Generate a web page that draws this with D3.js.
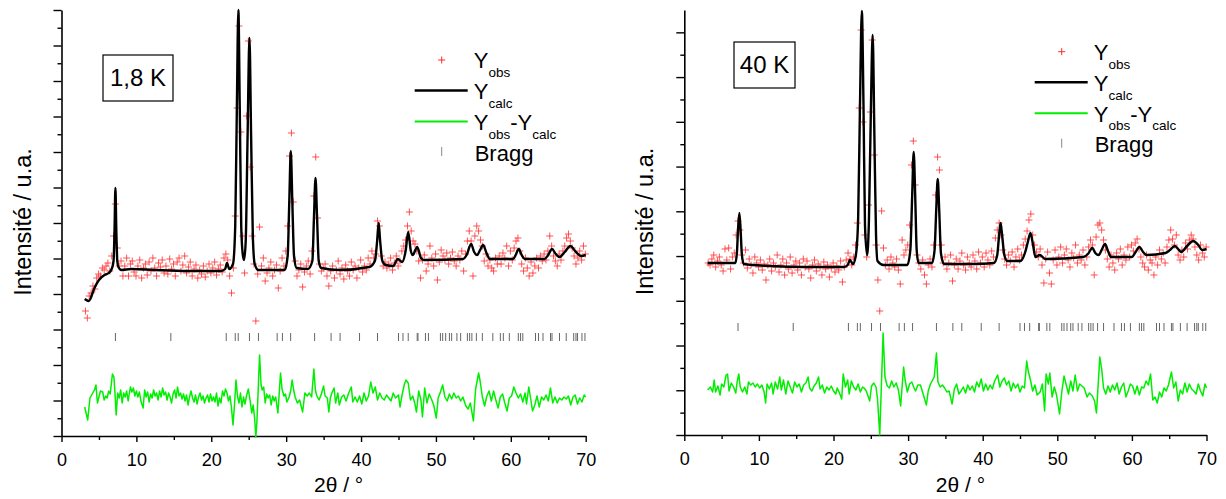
<!DOCTYPE html>
<html><head><meta charset="utf-8">
<script src="https://cdn.jsdelivr.net/npm/d3@7"></script>
<style>
body{margin:0;background:#fff;}
svg{display:block;}
text{font-family:"Liberation Sans",Arial,Helvetica,sans-serif;fill:#000;}
</style>
</head><body>
<svg id="chart" width="1226" height="499"></svg>
<script>
// ---------- data ----------
const xMajorTicks = [0, 10, 20, 30, 40, 50, 60, 70];
const xMinorTicks = [5, 15, 25, 35, 45, 55, 65];
const xTitle = "2θ / °";
const yTitle = "Intensité / u.a.";
const panelLabels = ["1,8 K", "40 K"];

const braggPositions = [7.2, 14.6, 22.0, 23.2, 23.6, 25.1, 26.3, 28.8, 29.5, 30.6, 33.8, 36.0, 37.2, 39.8, 42.2,
  45.0, 45.6, 46.3, 47.5, 47.6, 48.6, 49.0, 50.6, 50.9, 51.3, 51.8, 52.1, 52.8, 53.3, 54.2, 54.5, 54.8, 55.4,
  56.2, 57.6, 58.6, 59.0, 59.8, 61.0, 61.3, 61.6, 63.3, 63.7, 64.3, 65.3, 65.5, 66.5, 67.4, 68.4, 68.7, 68.9, 69.5, 69.9];

// observed intensities (a.u.), one value every 0.25° starting at 3.2°
const obsStart = 3.2, obsStep = 0.25;
const obsLeft = [
  /*3*/ 125,118,140,143, /*4*/ 150,147,158,162, /*5*/ 160,168,166,170, /*6*/ 173,165,180,200,
  /*7*/ 232,188,170,175, /*8*/ 160,170,178,160, /*9*/ 172,175,164,160, /*10*/ 170,176,158,168,
  /*11*/ 172,161,174,165, /*12*/ 178,168,160,173, /*13*/ 169,176,163,170, /*14*/ 162,177,167,172,
  /*15*/ 160,174,178,165, /*16*/ 171,180,163,169, /*17*/ 174,160,167,171, /*18*/ 158,166,162,170,
  /*19*/ 159,165,172,163, /*20*/ 168,174,161,167, /*21*/ 171,164,178,182, /*22*/ 176,160,143,168,
  /*23*/ 220,328,410,304, /*24*/ 200,163,320,395, /*25*/ 269,200,172,115, /*26*/ 162,209,170,178,
  /*27*/ 155,163,168,174, /*28*/ 160,166,171,148, /*29*/ 165,178,170,185, /*30*/ 210,280,303,234,
  /*31*/ 175,160,166,172, /*32*/ 149,164,170,175, /*33*/ 162,185,240,279, /*34*/ 218,172,165,168,
  /*35*/ 172,160,150,165, /*36*/ 170,158,166,175, /*37*/ 162,168,157,171, /*38*/ 165,160,174,166,
  /*39*/ 170,158,168,176, /*40*/ 164,170,166,178, /*41*/ 172,185,178,182, /*42*/ 215,210,180,170,
  /*43*/ 174,168,172,178, /*44*/ 166,173,180,170, /*45*/ 175,185,190,196, /*46*/ 210,224,205,195,
  /*47*/ 192,185,175,158, /*48*/ 176,181,165,172, /*49*/ 190,178,170,182, /*50*/ 156,174,186,180,
  /*51*/ 176,183,172,178, /*52*/ 184,175,170,180, /*53*/ 176,185,165,182, /*54*/ 195,205,195,160,
  /*55*/ 200,210,205,196, /*56*/ 190,175,182,170, /*57*/ 176,168,165,178, /*58*/ 172,180,172,183,
  /*59*/ 178,190,170,185, /*60*/ 176,188,195,198, /*61*/ 185,172,165,178, /*62*/ 168,160,174,163,
  /*63*/ 170,178,168,180, /*64*/ 175,182,176,185, /*65*/ 200,190,180,175, /*66*/ 170,182,176,185,
  /*67*/ 190,198,202,195, /*68*/ 188,180,172,178, /*69*/ 185,176,190,182
];
const obsRight = [
  /*3*/ 172,170,176,180, /*4*/ 168,174,178,170, /*5*/ 164,186,175,187, /*6*/ 166,178,182,200,
  /*7*/ 214,205,180,172, /*8*/ 185,167,176,170, /*9*/ 162,178,172,168, /*10*/ 175,165,171,155,
  /*11*/ 170,176,164,172, /*12*/ 168,180,163,170, /*13*/ 176,160,172,166, /*14*/ 178,162,170,174,
  /*15*/ 165,172,160,176, /*16*/ 168,174,166,157, /*17*/ 170,175,164,171, /*18*/ 168,160,173,166,
  /*19*/ 170,158,167,172, /*20*/ 163,169,165,174, /*21*/ 153,168,175,182, /*22*/ 176,170,178,190,
  /*23*/ 212,327,405,313, /*24*/ 200,178,230,323, /*25*/ 395,280,190,155, /*26*/ 124,224,187,170,
  /*27*/ 175,166,178,172, /*28*/ 168,176,165,151, /*29*/ 195,180,185,190, /*30*/ 210,270,294,250,
  /*31*/ 180,172,166,175, /*32*/ 160,151,170,176, /*33*/ 168,190,240,278, /*34*/ 265,190,172,178,
  /*35*/ 166,172,180,154, /*36*/ 170,176,166,174, /*37*/ 182,170,165,178, /*38*/ 172,168,180,174,
  /*39*/ 166,183,172,178, /*40*/ 168,182,175,170, /*41*/ 184,178,197,205, /*42*/ 212,200,185,176,
  /*43*/ 170,180,174,183, /*44*/ 168,178,186,175, /*45*/ 180,190,196,204, /*46*/ 215,221,200,190,
  /*47*/ 183,178,186,170, /*48*/ 152,176,183,162, /*49*/ 151,175,185,170, /*50*/ 178,188,172,180,
  /*51*/ 186,175,168,182, /*52*/ 177,190,172,180, /*53*/ 175,185,170,178, /*54*/ 188,195,190,160,
  /*55*/ 198,210,212,205, /*56*/ 195,185,176,168, /*57*/ 180,172,165,182, /*58*/ 176,186,170,180,
  /*59*/ 175,188,178,190, /*60*/ 184,192,196,186, /*61*/ 178,172,168,180, /*62*/ 165,175,172,160,
  /*63*/ 178,170,185,176, /*64*/ 182,172,188,195, /*65*/ 205,196,190,200, /*66*/ 180,175,185,178,
  /*67*/ 192,186,195,200, /*68*/ 196,188,180,175, /*69*/ 190,182,178,188
];

// calculated profile [2θ, intensity]
const calcLeft = [[3.1,137],[3.65,135],[4.4,148],[5.0,156],[5.74,161],[6.3,163],[6.7,167],[6.95,175],[7.08,205],[7.2,248],
  [7.32,205],[7.45,175],[7.6,169],[8.0,166],[9.3,167],[12.4,166],[16.9,165],[21.3,165],[21.85,167],[22.1,173],[22.4,167],
  [22.9,172],[23.2,210],[23.42,330],[23.62,426],[23.8,330],[24.0,210],[24.2,182],[24.38,176],[24.6,195],[24.85,300],
  [25.1,398],[25.32,300],[25.55,200],[25.8,172],[26.3,166],[29.8,166],[30.2,180],[30.42,235],[30.62,285],[30.82,235],
  [31.05,180],[31.4,168],[32.9,167],[33.5,175],[33.72,220],[33.92,258],[34.12,220],[34.35,175],[34.7,168],[37.1,166],
  [41.1,169],[41.85,175],[42.15,195],[42.35,213],[42.55,195],[42.85,175],[43.3,171],[44.3,170],[44.9,177],[45.5,174],
  [45.95,185],[46.3,204],[46.65,185],[46.9,181],[47.5,189],[48.0,178],[48.4,176],[53.6,177],[54.1,181],[54.7,192],
  [55.1,184],[55.5,181],[55.9,186],[56.3,191],[56.75,183],[57.2,177],[60.3,177],[60.65,181],[61.05,187],[61.45,181],
  [61.85,177],[64.5,177],[65.0,181],[65.5,187],[66.0,182],[66.5,179],[67.2,184],[67.95,190],[68.7,184],[69.4,180],[70.0,181]];
const calcRight = [[3.13,172],[6.84,172],[7.05,182],[7.2,205],[7.38,222],[7.55,205],[7.7,182],[7.95,171],[11.5,169],
  [16.0,168],[21.4,168],[21.9,170],[22.2,175],[22.6,171],[23.0,180],[23.3,215],[23.55,330],[23.8,424],[24.02,330],
  [24.22,210],[24.5,180],[24.75,215],[25.0,320],[25.25,400],[25.48,300],[25.7,200],[25.9,174],[26.7,170],[29.9,170],
  [30.3,185],[30.55,240],[30.75,283],[30.95,240],[31.15,185],[31.4,172],[33.2,172],[33.55,185],[33.77,225],[33.97,256],
  [34.17,225],[34.4,182],[34.8,171],[38.8,171],[41.5,172],[41.95,180],[42.2,200],[42.4,212],[42.6,200],[42.9,180],
  [43.3,174],[45.05,174],[45.7,183],[46.05,193],[46.4,202],[46.75,190],[47.07,178],[47.65,180],[48.4,176],[53.5,178],
  [54.1,181],[54.7,187],[55.1,182],[55.55,180],[56.0,186],[56.4,191],[56.8,184],[57.2,178],[60.0,178],[60.5,183],
  [61.0,188],[61.5,183],[62.0,180],[64.5,182],[65.1,185],[65.75,189],[66.3,185],[66.6,183],[67.4,189],[68.2,194],
  [68.9,190],[69.4,185],[70.0,186]];

// difference Yobs - Ycalc [2θ, intensity]
const diffLeft = [[3.1,-8],[3.5,-21],[3.8,1],[4.1,5],[4.4,9],[4.6,14],[4.8,-4],[5.0,2],[5.2,8],[5.5,7],[5.7,-1],[5.9,3],
  [6.1,1],[6.3,8],[6.5,5],[6.8,25],[7.0,22],[7.15,5],[7.3,-16],[7.5,6],[7.7,1],[7.9,9],[8.1,-4],[8.3,6],[8.5,2],[8.7,8],
  [8.9,-2],[9.2,12],[9.4,7],[9.6,11],[9.8,3],[10.0,8],[10.2,2],[10.4,7],[10.6,-2],[10.9,-9],[11.1,9],[11.3,2],[11.5,7],
  [11.7,-3],[11.9,5],[12.1,1],[12.3,9],[12.5,3],[12.7,6],[12.9,-1],[13.1,8],[13.3,2],[13.5,11],[13.7,4],[13.9,7],[14.1,-1],
  [14.3,6],[14.5,2],[14.7,-4],[14.9,5],[15.1,9],[15.3,1],[15.5,12],[15.7,3],[15.9,6],[16.1,0],[16.3,5],[16.5,-2],[16.7,4],
  [16.9,-6],[17.1,2],[17.3,8],[17.5,1],[17.7,-3],[17.9,4],[18.1,-5],[18.3,2],[18.5,6],[18.7,-1],[18.9,3],[19.1,-4],[19.3,1],
  [19.5,4],[19.7,-3],[19.9,5],[20.1,-2],[20.3,2],[20.5,-3],[20.7,6],[20.9,-7],[21.1,1],[21.3,-4],[21.5,8],[21.7,3],[21.9,10],
  [22.1,6],[22.3,-2],[22.5,3],[22.7,-9],[22.9,-26],[23.1,-6],[23.3,19],[23.5,3],[23.7,-4],[23.9,6],[24.1,-8],[24.3,2],
  [24.5,-5],[24.7,3],[24.95,10],[25.2,-2],[25.4,-14],[25.6,-6],[25.8,-20],[25.95,-38],[26.1,-22],[26.45,44],[26.65,14],
  [26.8,9],[27.0,12],[27.2,-4],[27.4,5],[27.6,1],[27.8,4],[28.0,-6],[28.2,3],[28.4,-2],[28.6,2],[28.9,-14],[29.25,26],
  [29.45,10],[29.7,3],[29.9,5],[30.1,-3],[30.4,2],[30.6,8],[30.8,19],[31.0,9],[31.2,2],[31.5,-4],[31.8,-1],[32.2,-13],
  [32.5,6],[32.8,3],[33.1,6],[33.4,2],[33.7,30],[33.9,9],[34.1,3],[34.4,-1],[34.7,5],[35.0,13],[35.2,3],[35.5,1],[35.7,-13],
  [35.9,1],[36.1,6],[36.4,11],[36.6,-4],[36.9,6],[37.1,-6],[37.4,2],[37.7,4],[38.0,-2],[38.3,5],[38.7,12],[38.9,-3],[39.2,2],
  [39.5,-3],[39.8,3],[40.1,-5],[40.4,6],[40.7,-2],[41.0,3],[41.3,17],[41.6,6],[41.9,12],[42.2,-1],[42.5,6],[42.8,1],[43.1,-1],
  [43.4,4],[43.7,1],[44.0,-2],[44.3,6],[44.6,1],[45.0,4],[45.2,-8],[45.5,5],[45.8,15],[46.0,19],[46.3,16],[46.6,-1],[46.9,3],
  [47.2,-5],[47.4,-13],[47.7,8],[48.0,-1],[48.2,-18],[48.5,11],[48.8,-4],[49.1,5],[49.4,0],[49.7,-6],[50.05,-19],[50.3,1],
  [50.6,7],[50.9,14],[51.2,2],[51.5,-2],[51.8,5],[52.1,0],[52.4,6],[52.7,1],[53.0,3],[53.3,-2],[53.6,2],[54.0,-7],[54.3,-10],
  [54.6,-4],[55.0,-22],[55.3,10],[55.7,26],[55.9,18],[56.2,2],[56.5,-7],[56.8,3],[57.1,8],[57.4,-2],[57.7,8],[58.0,-1],
  [58.3,-9],[58.6,2],[58.9,5],[59.2,-4],[59.5,-12],[59.8,1],[60.1,3],[60.4,12],[60.7,6],[61.0,1],[61.3,5],[61.6,-3],[61.9,6],
  [62.1,-5],[62.4,12],[62.7,-2],[62.9,-12],[63.2,-6],[63.5,3],[63.8,-8],[64.1,2],[64.4,-1],[64.7,4],[65.0,-2],[65.3,11],
  [65.6,-4],[65.9,2],[66.2,-4],[66.5,1],[66.8,-1],[67.1,2],[67.4,0],[67.7,3],[68.0,-6],[68.3,2],[68.6,4],[68.9,-5],[69.2,1],
  [69.5,-3],[69.8,4],[70.0,2]];
const diffRight = [[3.13,-1],[3.5,2],[3.8,-3],[4.0,9],[4.2,-3],[4.5,3],[4.8,-6],[5.0,5],[5.3,2],[5.6,14],[5.8,15],[6.0,-2],
  [6.3,6],[6.6,2],[6.9,-4],[7.1,8],[7.3,15],[7.5,2],[7.8,-3],[8.1,2],[8.4,-5],[8.6,7],[8.9,4],[9.2,6],[9.5,2],[9.8,5],[10.1,1],
  [10.4,4],[10.7,-3],[10.9,-14],[11.1,5],[11.4,0],[11.7,6],[11.9,-5],[12.2,7],[12.5,0],[12.8,12],[13.0,-1],[13.3,9],[13.6,-5],
  [13.9,8],[14.2,2],[14.5,-4],[14.8,7],[15.1,2],[15.4,5],[15.7,-3],[16.0,4],[16.3,6],[16.6,12],[16.8,1],[17.1,-2],[17.4,3],
  [17.7,6],[18.0,12],[18.2,0],[18.5,4],[18.8,-4],[19.1,2],[19.4,-1],[19.7,3],[20.0,-2],[20.3,-5],[20.5,1],[20.8,-4],[21.1,-10],
  [21.3,15],[21.6,2],[21.9,9],[22.1,-5],[22.4,8],[22.7,2],[23.0,-1],[23.3,5],[23.6,-3],[23.9,2],[24.1,1],[24.4,-2],[24.85,-12],
  [25.1,3],[25.4,6],[25.7,2],[25.9,-10],[26.2,-46],[26.65,56],[26.9,12],[27.2,3],[27.5,1],[27.8,8],[28.1,2],[28.4,6],[28.7,-1],
  [29.0,-17],[29.4,22],[29.6,9],[29.9,-3],[30.2,5],[30.5,7],[30.8,1],[31.0,-2],[31.3,4],[31.65,4],[31.9,-2],[32.45,-16],
  [32.7,-2],[33.0,5],[33.5,12],[33.8,36],[34.0,7],[34.3,2],[34.6,4],[34.9,1],[35.2,-3],[35.5,-2],[35.9,-15],[36.2,0],[36.5,5],
  [36.8,-5],[37.1,-2],[37.4,2],[37.7,-4],[38.0,4],[38.3,-1],[38.6,3],[38.9,-3],[39.2,7],[39.5,2],[39.8,10],[40.1,-2],[40.4,5],
  [40.7,-1],[41.0,4],[41.3,0],[41.6,8],[42.0,14],[42.3,2],[42.6,8],[42.9,11],[43.2,4],[43.5,8],[43.8,-2],[44.1,6],[44.4,1],
  [44.7,5],[45.0,-3],[45.3,3],[45.6,1],[45.9,28],[46.1,18],[46.4,9],[46.7,-2],[47.0,4],[47.3,-6],[47.7,-3],[48.0,5],[48.3,-22],
  [48.5,15],[48.8,5],[49.0,16],[49.3,-8],[49.6,2],[49.9,-6],[50.3,-25],[50.6,-3],[50.9,13],[51.2,4],[51.5,-5],[51.8,8],
  [52.1,-2],[52.4,14],[52.7,-2],[53.0,5],[53.3,3],[53.6,1],[54.0,-8],[54.3,-4],[54.7,-7],[55.0,-12],[55.25,-24],[55.7,32],
  [55.95,20],[56.2,1],[56.5,-5],[56.8,3],[57.1,-3],[57.4,4],[57.7,-1],[58.0,6],[58.3,-5],[58.6,2],[58.9,6],[59.2,-8],[59.5,-2],
  [59.8,5],[60.1,3],[60.4,-5],[60.7,3],[61.0,-6],[61.3,2],[61.6,1],[61.9,8],[62.2,4],[62.5,15],[62.8,-11],[63.1,-8],[63.4,-14],
  [63.7,-3],[64.0,-8],[64.3,1],[64.6,-2],[64.9,4],[65.3,17],[65.6,1],[65.9,7],[66.2,-12],[66.5,-1],[66.8,-5],[67.1,6],[67.4,-3],
  [67.7,5],[68.0,0],[68.3,-2],[68.6,-5],[68.9,5],[69.2,-2],[69.5,-7],[69.8,5],[70.0,1]];

// ---------- panels ----------
const panels = [
  { label: panelLabels[0], obs: obsLeft, calc: calcLeft, diff: diffLeft,
    yMax: 426, tickStep: 17.75, diffOffset: 37, braggLevel: 95,
    x0: 61.5, x1: 585.7, top: 10, bottom: 436,
    box: {x: 103, y: 55, w: 70, h: 46}, legend: {x: 441.7, y: 60} },
  { label: panelLabels[1], obs: obsRight, calc: calcRight, diff: diffRight,
    yMax: 425, tickStep: 22.37, diffOffset: 46, braggLevel: 104,
    x0: 684.3, x1: 1206.5, top: 10, bottom: 435,
    box: {x: 734, y: 42, w: 61, h: 46}, legend: {x: 1061.7, y: 51.7} }
];

const svg = d3.select("#chart");

panels.forEach(p => {
  const g = svg.append("g");
  const x = d3.scaleLinear().domain([0, 70]).range([p.x0, p.x1]);
  const y = d3.scaleLinear().domain([0, p.yMax]).range([p.bottom, p.top]);

  // y axis ticks (no labels)
  const yAll = d3.range(0, p.yMax + 0.01, p.tickStep);
  const n = yAll.length - 1;
  const yMajor = yAll.filter((v, i) => (n - i) % 2 === 0);
  const yMinor = yAll.filter((v, i) => (n - i) % 2 === 1);
  g.append("g").attr("transform", `translate(${p.x0},0)`)
    .call(d3.axisLeft(y).tickValues(yMajor).tickSize(8).tickSizeOuter(0).tickFormat(""));
  g.append("g").attr("transform", `translate(${p.x0},0)`)
    .call(d3.axisLeft(y).tickValues(yMinor).tickSize(4).tickSizeOuter(0).tickFormat(""))
    .select(".domain").remove();

  // x axis
  const xAx = g.append("g").attr("transform", `translate(0,${p.bottom})`)
    .call(d3.axisBottom(x).tickValues(xMajorTicks).tickSize(6).tickSizeOuter(0).tickPadding(11));
  g.append("g").attr("transform", `translate(0,${p.bottom})`)
    .call(d3.axisBottom(x).tickValues(xMinorTicks).tickSize(4).tickSizeOuter(0).tickFormat(""))
    .select(".domain").remove();
  g.selectAll(".domain").attr("stroke", "#000").attr("stroke-width", 1.6);
  g.selectAll(".tick line").attr("stroke", "#000").attr("stroke-width", 1.4);
  xAx.selectAll("text").attr("font-size", 18).attr("fill", "#000")
     .attr("font-family", "'Liberation Sans',Arial,sans-serif");

  // axis titles
  g.append("text").attr("x", (p.x0 + p.x1) / 2 + 15).attr("y", 492)
    .attr("text-anchor", "middle").attr("font-size", 21).text(xTitle);
  g.append("text").attr("transform", `translate(${p.x0 - 31},${(p.top + p.bottom) / 2 - 1}) rotate(-90)`)
    .attr("text-anchor", "middle").attr("font-size", 23.5).text(yTitle);

  // Bragg ticks
  g.append("g").selectAll("line").data(braggPositions).join("line")
    .attr("x1", d => x(d)).attr("x2", d => x(d))
    .attr("y1", y(p.braggLevel)).attr("y2", y(p.braggLevel + 8))
    .attr("stroke", "#666").attr("stroke-width", 1);

  // difference curve
  g.append("path").datum(p.diff)
    .attr("fill", "none").attr("stroke", "#00ee00").attr("stroke-width", 1.5)
    .attr("stroke-linejoin", "round")
    .attr("d", d3.line().x(d => x(d[0])).y(d => y(p.diffOffset + d[1])));

  // observed points as '+'
  const obsPts = p.obs.map((v, i) => [obsStart + i * obsStep, v]);
  g.append("path")
    .attr("fill", "none").attr("stroke", "#ff2a2a").attr("stroke-width", 1).attr("stroke-opacity", 0.8)
    .attr("d", obsPts.map(d => {
      const cx = x(d[0]), cy = y(d[1]);
      return `M${cx - 3.5},${cy}H${cx + 3.5}M${cx},${cy - 3.5}V${cy + 3.5}`;
    }).join(""));

  // calculated profile
  g.append("path").datum(p.calc)
    .attr("fill", "none").attr("stroke", "#000").attr("stroke-width", 2.4)
    .attr("stroke-linejoin", "round")
    .attr("d", d3.line().curve(d3.curveMonotoneX).x(d => x(d[0])).y(d => y(d[1])));

  // temperature label box
  g.append("rect").attr("x", p.box.x).attr("y", p.box.y).attr("width", p.box.w).attr("height", p.box.h)
    .attr("fill", "#fff").attr("stroke", "#000").attr("stroke-width", 1.2);
  g.append("text").attr("x", p.box.x + p.box.w / 2).attr("y", p.box.y + 31)
    .attr("text-anchor", "middle").attr("font-size", 24).text(p.label);

  // legend
  const L = g.append("g").attr("transform", `translate(${p.legend.x},${p.legend.y})`);
  L.append("path").attr("d", "M-3.5,0H3.5M0,-3.5V3.5").attr("stroke", "#ff2a2a").attr("stroke-width", 1);
  L.append("line").attr("x1", -27).attr("x2", 26).attr("y1", 30.5).attr("y2", 30.5)
    .attr("stroke", "#000").attr("stroke-width", 2.4);
  L.append("line").attr("x1", -27).attr("x2", 26).attr("y1", 61.5).attr("y2", 61.5)
    .attr("stroke", "#00ee00").attr("stroke-width", 2);
  L.append("line").attr("x1", 0).attr("x2", 0).attr("y1", 87).attr("y2", 96)
    .attr("stroke", "#888").attr("stroke-width", 1);

  const sub = (t, parts) => {
    parts.forEach(([s, isSub], k) => {
      t.append("tspan").attr("font-size", isSub ? 13.5 : 22)
        .attr("dy", k === 0 ? 0 : (isSub ? 8.7 : -8.7)).text(s);
    });
  };
  sub(L.append("text").attr("x", 32).attr("y", 8.3), [["Y", false], ["obs", true]]);
  sub(L.append("text").attr("x", 32).attr("y", 39.3), [["Y", false], ["calc", true]]);
  sub(L.append("text").attr("x", 32).attr("y", 70), [["Y", false], ["obs", true], ["-Y", false], ["calc", true]]);
  L.append("text").attr("x", 33).attr("y", 100.5).attr("font-size", 22).text("Bragg");
});
</script>
</body></html>
